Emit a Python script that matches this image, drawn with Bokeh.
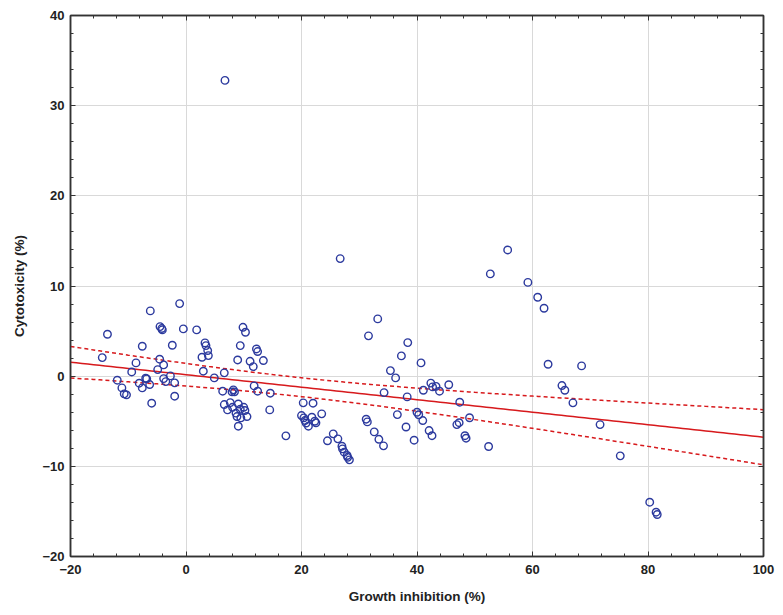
import numpy as np
from bokeh.plotting import figure
from bokeh.models import LinearAxis, Range1d, FixedTicker
from bokeh.embed import file_html
from bokeh.resources import INLINE

growth_inhibition = [
    -14.5, -13.6, -11.9, -11.1, -10.7, -10.3, -9.4, -8.66, -8.1, -7.57, -7.57, -6.98, -6.8, -6.29,
    -6.18, -5.94, -4.9, -4.56, -4.5, -4.2, -4.1, -3.87, -3.87, -3.5, -2.7, -2.37, -1.96, -1.96,
    -1.1, -0.46, 1.85, 2.77, 3.0, 3.29, 3.46, 3.76, 3.87, 4.9, 6.63, 6.35, 7.97, 8.2, 8.4,
    6.63, 7.67, 7.2, 8.06, 8.66, 8.83, 9.06, 9.4, 10.0, 10.2, 9.5, 10.56, 9.06,
    9.87, 10.3, 9.4, 8.95, 11.1, 11.65, 12.2, 12.4, 13.4, 11.8, 12.4, 14.6, 14.5, 6.75,
    17.3, 20.3, 22.0, 20.0, 20.4, 20.6, 20.8, 21.2, 21.8, 22.3, 22.5, 23.5,
    24.5, 25.5, 26.3, 27.0, 27.1, 27.4, 27.9, 28.0, 28.3, 26.7,
    31.2, 31.4, 32.6, 33.4, 34.2, 34.3, 33.2, 31.6, 38.4, 37.3, 35.4, 36.3, 40.7,
    38.3, 36.6, 38.1, 39.5, 40.0, 40.3, 41.0, 42.1, 42.6,
    42.4, 42.7, 43.3, 43.9, 41.1, 45.5, 47.4, 49.1, 46.9, 47.3, 48.3, 48.5, 52.4,
    52.7, 55.7, 59.2, 60.9, 62.0, 62.7, 68.5, 65.1, 65.6, 67.0, 71.7, 75.2, 80.3, 81.4, 81.6,
]
cytotoxicity = [
    2.06, 4.65, -0.45, -1.3, -1.96, -2.07, 0.47, 1.47, -0.78, 3.32, -1.3, -0.23, -0.3, -0.93,
    7.24, -3.0, 0.73, 1.88, 5.5, 5.28, 5.13, 1.25, -0.27, -0.6, 0.03, 3.43, -0.74, -2.22,
    8.05, 5.24, 5.13, 2.1, 0.55, 3.69, 3.39, 2.84, 2.28, -0.19, 0.37, -1.67, -1.74, -1.52, -1.74,
    -3.15, -2.93, -3.74, -3.45, -4.1, -4.48, -3.08, -3.67, -3.45, -3.81, -4.63, -4.48, -5.55,
    5.42, 4.87, 3.39, 1.8, 1.65, 1.06, 3.02, 2.73, 1.73, -1.08, -1.67, -1.89, -3.74, 32.8,
    -6.62, -2.96, -3.0, -4.37, -4.63, -4.92, -5.2, -5.55, -4.55, -5.0, -5.18, -4.18,
    -7.17, -6.4, -6.95, -7.77, -8.06, -8.43, -8.8, -9.0, -9.28, 13.04,
    -4.77, -5.07, -6.18, -7.0, -7.73, -1.82, 6.35, 4.47, 3.72, 2.25, 0.62, -0.19, 1.47,
    -2.3, -4.26, -5.64, -7.1, -4.0, -4.28, -4.92, -6.03, -6.6,
    -0.77, -1.19, -1.13, -1.67, -1.56, -0.95, -2.89, -4.61, -5.37, -5.16, -6.6, -6.88, -7.8,
    11.34, 14.0, 10.4, 8.75, 7.53, 1.32, 1.14, -1.04, -1.56, -2.96, -5.37, -8.84, -13.98, -15.09, -15.34,
]

# fitted regression and 95% confidence band parameters
fit_intercept = 0.16
fit_slope = -0.0693
band_a = 1.097
band_b = 0.001268
band_xmean = 19.3

x_ticks = [-20, 0, 20, 40, 60, 80, 100]
y_ticks = [-20, -10, 0, 10, 20, 30, 40]

W, H = 775, 607
p = figure(width=W, height=H, output_backend="svg", toolbar_location=None,
           x_range=Range1d(-20, 100), y_range=Range1d(-20, 40),
           min_border_left=70, min_border_right=12, min_border_top=15, min_border_bottom=51)
p.background_fill_color = "white"
p.border_fill_color = "white"
p.outline_line_color = "#333333"
p.outline_line_width = 1.5

font = "Liberation Sans"
for ax in (p.xaxis[0], p.yaxis[0]):
    ax.major_label_text_font = font
    ax.major_label_text_font_style = "bold"
    ax.major_label_text_font_size = "13px"
    ax.major_label_text_color = "#222222"
    ax.axis_label_text_font = font
    ax.axis_label_text_font_style = "bold"
    ax.axis_label_text_font_size = "13.5px"
    ax.axis_label_text_color = "#222222"
    ax.axis_line_color = "#333333"
    ax.axis_line_width = 1.5
    ax.major_tick_in = 5
    ax.major_tick_out = 0
    ax.minor_tick_in = 3
    ax.minor_tick_out = 0
    ax.major_tick_line_color = "#333333"
    ax.minor_tick_line_color = "#333333"

p.xaxis[0].ticker = FixedTicker(ticks=x_ticks, minor_ticks=list(np.arange(-20, 101, 4)))
p.yaxis[0].ticker = FixedTicker(ticks=y_ticks, minor_ticks=list(np.arange(-20, 41, 2)))
p.xaxis[0].axis_label = "Growth inhibition (%)"
p.yaxis[0].axis_label = "Cytotoxicity (%)"
p.xaxis[0].major_label_standoff = 8
p.yaxis[0].major_label_standoff = 6
p.xaxis[0].axis_label_standoff = 12
p.yaxis[0].axis_label_standoff = 12

for loc, tk in (("above", FixedTicker(ticks=x_ticks, minor_ticks=list(np.arange(-20, 101, 4)))),
                ("right", FixedTicker(ticks=y_ticks, minor_ticks=list(np.arange(-20, 41, 2))))):
    ax = LinearAxis(ticker=tk)
    ax.major_label_text_alpha = 0
    ax.major_label_text_font_size = "1px"
    ax.major_label_standoff = 0
    ax.axis_line_color = "#333333"
    ax.axis_line_width = 1.5
    ax.major_tick_in = 5
    ax.major_tick_out = 0
    ax.minor_tick_in = 3
    ax.minor_tick_out = 0
    ax.major_tick_line_color = "#333333"
    ax.minor_tick_line_color = "#333333"
    p.add_layout(ax, loc)

p.xgrid.ticker = FixedTicker(ticks=x_ticks)
p.ygrid.ticker = FixedTicker(ticks=y_ticks)
p.grid.grid_line_color = "#d9d9d9"
p.grid.grid_line_width = 1

xs = np.linspace(-20, 100, 121)
yfit = fit_intercept + fit_slope * xs
half = np.sqrt(band_a + band_b * (xs - band_xmean) ** 2)
p.line(xs, yfit, line_color="#d7191c", line_width=1.5)
p.line(xs, yfit + half, line_color="#d7191c", line_width=1.5, line_dash="4 3")
p.line(xs, yfit - half, line_color="#d7191c", line_width=1.5, line_dash="4 3")

p.scatter(growth_inhibition, cytotoxicity, marker="circle", size=7.5,
          fill_color=None, line_color="#2c3a9e", line_width=1.4)

open("out.html", "w").write(file_html(p, INLINE))
